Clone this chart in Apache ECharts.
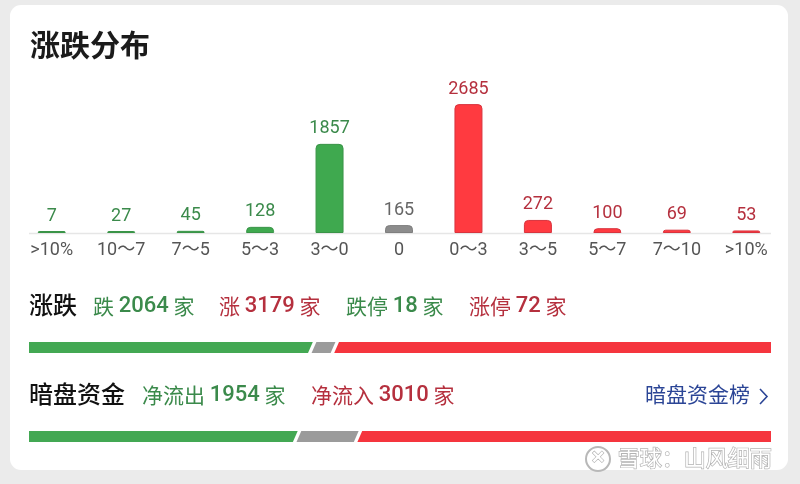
<!DOCTYPE html>
<html>
<head>
<meta charset="utf-8">
<script src="https://cdn.jsdelivr.net/npm/echarts@6/dist/echarts.min.js"></script>
<style>
html,body{margin:0;padding:0;background:#ebebeb;}
#c{width:800px;height:484px;}
</style>
</head>
<body>
<div id="c"></div>
<script>
// ---- data ----
const categories = ['>10%', '10～7', '7～5', '5～3', '3～0', '0', '0～3', '3～5', '5～7', '7～10', '>10%'];
const counts = [7, 27, 45, 128, 1857, 165, 2685, 272, 100, 69, 53];
const kinds = ['down', 'down', 'down', 'down', 'down', 'flat', 'up', 'up', 'up', 'up', 'up'];

const summaryLabels = ['跌', '涨', '跌停', '涨停'];
const summaryValues = [2064, 3179, 18, 72];
const summaryKinds = ['down', 'up', 'down', 'up'];

const flowLabels = ['净流出', '净流入'];
const flowValues = [1954, 3010];
const flowKinds = ['down', 'up'];

const ratioRow1 = [2064, 165, 3179];   // 跌 / 平 / 涨
const ratioRow2 = [1954, 444, 3010];   // 净流出 / 其他 / 净流入
const ratioKinds = ['down', 'flat', 'up'];

// ---- styles ----
const barColor = { down: '#3fa94f', flat: '#8c8c8c', up: '#ff3a40' };
const barBorder = { down: '#3a9448', flat: '#7f7f7f', up: '#d8343e' };
const textColor = { down: '#3b8a4b', flat: '#666666', up: '#b5303e' };
const ratioColor = { down: '#43a853', flat: '#9b9b9b', up: '#f5353e' };
const FONT = 'Roboto, "Noto Sans CJK SC", sans-serif';
const CJK = '"Noto Sans CJK SC", sans-serif';

const chart = echarts.init(document.getElementById('c'), null, { renderer: 'canvas' });

function ratioData(row) {
  let acc = 0;
  return row.map((v, i) => {
    const s = acc; acc += v;
    return { value: [s, acc, i, i === 0 ? 1 : 0, i === row.length - 1 ? 1 : 0] };
  });
}
function ratioRender(params, api) {
  const s = api.value(0), e = api.value(1), idx = api.value(2);
  const first = api.value(3), last = api.value(4);
  const p0 = api.coord([s, 0]), p1 = api.coord([e, 0]);
  const h = api.size([0, 1])[1];
  const top = p0[1] - h / 2, bot = p0[1] + h / 2;
  const gap = 1.8, sk = 2.4;
  const xl = p0[0], xr = p1[0];
  const pts = [];
  if (first) { pts.push([xl, bot], [xl, top]); }
  else { pts.push([xl + gap - sk, bot], [xl + gap + sk, top]); }
  if (last) { pts.push([xr, top], [xr, bot]); }
  else { pts.push([xr - gap + sk, top], [xr - gap - sk, bot]); }
  return {
    type: 'polygon',
    shape: { points: pts },
    style: { fill: ratioColor[ratioKinds[idx]] }
  };
}

const graphics = [
  { type: 'rect', left: 10, top: 5, shape: { width: 778, height: 465, r: 11 }, style: { fill: '#ffffff' }, z: -10 },
  { type: 'text', left: 30, top: 30, style: { text: '涨跌分布', font: 'bold 30px ' + CJK, fill: '#1b1b1b' } },
  { type: 'text', left: 29, top: 293, style: { text: '涨跌', font: '500 24px ' + CJK, fill: '#111111' } },
  { type: 'text', left: 29, top: 382, style: { text: '暗盘资金', font: '500 24px ' + CJK, fill: '#111111' } },
  { type: 'text', left: 645, top: 384, style: { text: '暗盘资金榜', font: '21px ' + CJK, fill: '#2b4596' } },
  { type: 'polyline', z: 20, shape: { points: [[760, 389], [767, 396.5], [760, 404]] }, style: { stroke: '#2b4596', lineWidth: 1.6, fill: null } },
  { type: 'line', shape: { x1: 29, y1: 233.5, x2: 771, y2: 233.5 }, style: { stroke: '#e6e6e6', lineWidth: 1.5 }, z: -1 },
  // watermark
  { type: 'circle', shape: { cx: 598, cy: 459, r: 12 }, style: { fill: 'rgba(255,255,255,0.6)', stroke: '#b8b8b8', lineWidth: 2 } },
  { type: 'text', left: 590, top: 447, style: { text: '✕', font: 'bold 17px ' + CJK, fill: '#ffffff', stroke: '#b0b0b0', lineWidth: 1.2 } },
  { type: 'text', left: 617, top: 446, style: { text: '雪球：山风细雨', font: '22px ' + CJK, fill: '#ffffff', stroke: '#b3b3b3', lineWidth: 1.4 } }
];
const summaryX = [93, 219, 346, 469];
summaryLabels.forEach((lab, i) => {
  const c = textColor[summaryKinds[i]];
  graphics.push({
    type: 'text', left: summaryX[i], top: 295,
    style: {
      text: '{n|' + lab + ' }{b|' + summaryValues[i] + '}{n| 家}',
      rich: {
        n: { font: '21px ' + CJK, fill: c },
        b: { font: '500 22px ' + FONT, fill: c }
      }
    }
  });
});
const flowX = [142, 311];
flowLabels.forEach((lab, i) => {
  const c = textColor[flowKinds[i]];
  graphics.push({
    type: 'text', left: flowX[i], top: 384,
    style: {
      text: '{n|' + lab + ' }{b|' + flowValues[i] + '}{n| 家}',
      rich: {
        n: { font: '21px ' + CJK, fill: c },
        b: { font: '500 22px ' + FONT, fill: c }
      }
    }
  });
});

const option = {
  animation: false,
  backgroundColor: '#ebebeb',
  grid: [
    { left: 17, right: 19, top: 89, bottom: 251 },
    { left: 29, right: 29, top: 342, height: 11 },
    { left: 29, right: 29, top: 431, height: 11 }
  ],
  xAxis: [
    {
      gridIndex: 0, type: 'category', data: categories,
      axisLine: { show: false }, axisTick: { show: false },
      axisLabel: { color: '#555555', fontSize: 18, fontFamily: FONT, margin: 9, interval: 0 }
    },
    { gridIndex: 1, type: 'value', min: 0, max: ratioRow1.reduce((a, b) => a + b, 0), show: false },
    { gridIndex: 2, type: 'value', min: 0, max: ratioRow2.reduce((a, b) => a + b, 0), show: false }
  ],
  yAxis: [
    { gridIndex: 0, type: 'value', min: 0, max: 3000, show: false },
    { gridIndex: 1, type: 'category', data: ['涨跌'], show: false },
    { gridIndex: 2, type: 'category', data: ['暗盘资金'], show: false }
  ],
  series: [
    {
      type: 'bar', xAxisIndex: 0, yAxisIndex: 0,
      barWidth: 28, barMinHeight: 2,
      data: counts.map((v, i) => ({
        value: v,
        itemStyle: { color: barColor[kinds[i]], borderColor: barBorder[kinds[i]], borderWidth: 1, borderRadius: [4, 4, 0, 0] },
        label: { color: textColor[kinds[i]] }
      })),
      label: { show: true, position: 'top', distance: 6, fontSize: 18, fontFamily: FONT }
    },
    {
      type: 'custom', xAxisIndex: 1, yAxisIndex: 1,
      renderItem: ratioRender, data: ratioData(ratioRow1),
      encode: { x: [0, 1], y: 2 }
    },
    {
      type: 'custom', xAxisIndex: 2, yAxisIndex: 2,
      renderItem: ratioRender, data: ratioData(ratioRow2),
      encode: { x: [0, 1], y: 2 }
    }
  ],
  graphic: graphics
};
chart.setOption(option);
</script>
</body>
</html>
